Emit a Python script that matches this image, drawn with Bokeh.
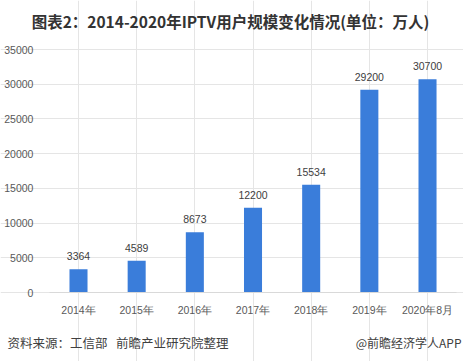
from bokeh.plotting import figure
from bokeh.models import ColumnDataSource, Range1d, Label, LabelSet, LinearAxis, FixedTicker
from bokeh.core.properties import value
from bokeh.embed import file_html
from bokeh.resources import INLINE

categories = ["2014年", "2015年", "2016年", "2017年", "2018年", "2019年", "2020年8月"]
users = [3364, 4589, 8673, 12200, 15534, 29200, 30700]
y_ticks = [0, 5000, 10000, 15000, 20000, 25000, 30000, 35000]

title_text = "图表2：2014-2020年IPTV用户规模变化情况(单位：万人)"
source_text = "资料来源：工信部\u00a0\u00a0\u00a0前瞻产业研究院整理"
brand_text = "@前瞻经济学人APP"

CJK = "Noto Sans CJK SC"
LAT = "Liberation Sans"

W, H = 463, 361
# pixel layout of the plotting area
x0_px, step_px = 78.0, 58.17        # centre of first bar, spacing
y0_px, ytop_px = 292.0, 49.0        # pixel rows of 0 and 35000
u_per_px = 35000 / (y0_px - ytop_px)

idx = list(range(len(categories)))
src = ColumnDataSource(dict(x=idx, val=users, txt=[str(v) for v in users]))

p = figure(width=W, height=H, output_backend="svg", toolbar_location=None,
           x_range=Range1d(-x0_px / step_px, -x0_px / step_px + W / step_px),
           y_range=Range1d(-(H - y0_px) * u_per_px, 35000 + ytop_px * u_per_px),
           x_axis_location=None, y_axis_location=None,
           min_border=0)
p.outline_line_color = None
p.background_fill_color = "white"
p.border_fill_color = "white"

p.vbar(x="x", top="val", width=0.31, source=src, color="#3A7DDA", line_color=None)

labels = LabelSet(x="x", y="val", text="txt", source=src, text_align="center",
                  text_baseline="bottom", y_offset=9, text_font_size="10.5px",
                  text_color="#404040", text_font=value(LAT))
p.add_layout(labels)

yaxis = LinearAxis(fixed_location=-0.5, bounds=(0, 35000), ticker=FixedTicker(ticks=y_ticks))
yaxis.axis_line_color = None
yaxis.major_tick_line_color = None
yaxis.minor_tick_line_color = None
yaxis.major_label_text_font_size = "10.5px"
yaxis.major_label_text_color = "#595959"
yaxis.major_label_text_font = LAT
yaxis.major_label_standoff = 10
p.add_layout(yaxis, "left")

xaxis = LinearAxis(fixed_location=0, bounds=(-0.5, len(categories) - 0.5),
                   ticker=FixedTicker(ticks=idx),
                   major_label_overrides={i: c for i, c in zip(idx, categories)})
xaxis.axis_line_color = "#D9D9D9"
xaxis.major_tick_line_color = None
xaxis.minor_tick_line_color = None
xaxis.major_label_text_font_size = "10.5px"
xaxis.major_label_text_color = "#595959"
xaxis.major_label_text_font = LAT
xaxis.major_label_standoff = 5
p.add_layout(xaxis, "below")

p.add_layout(Label(x=230, y=H - 20.5, x_units="screen", y_units="screen",
                   text=title_text, text_align="center", text_baseline="middle",
                   text_font=CJK, text_font_style="bold", text_font_size="15.5px",
                   text_color="#333333"))
p.add_layout(Label(x=7, y=H - 341.5, x_units="screen", y_units="screen",
                   text=source_text, text_align="left", text_baseline="middle",
                   text_font=CJK, text_font_size="12.5px", text_color="#404040"))
p.add_layout(Label(x=461, y=H - 341.5, x_units="screen", y_units="screen",
                   text=brand_text, text_align="right", text_baseline="middle",
                   text_font=CJK, text_font_size="12px", text_color="#404040"))

open("out.html", "w").write(file_html(p, INLINE))
